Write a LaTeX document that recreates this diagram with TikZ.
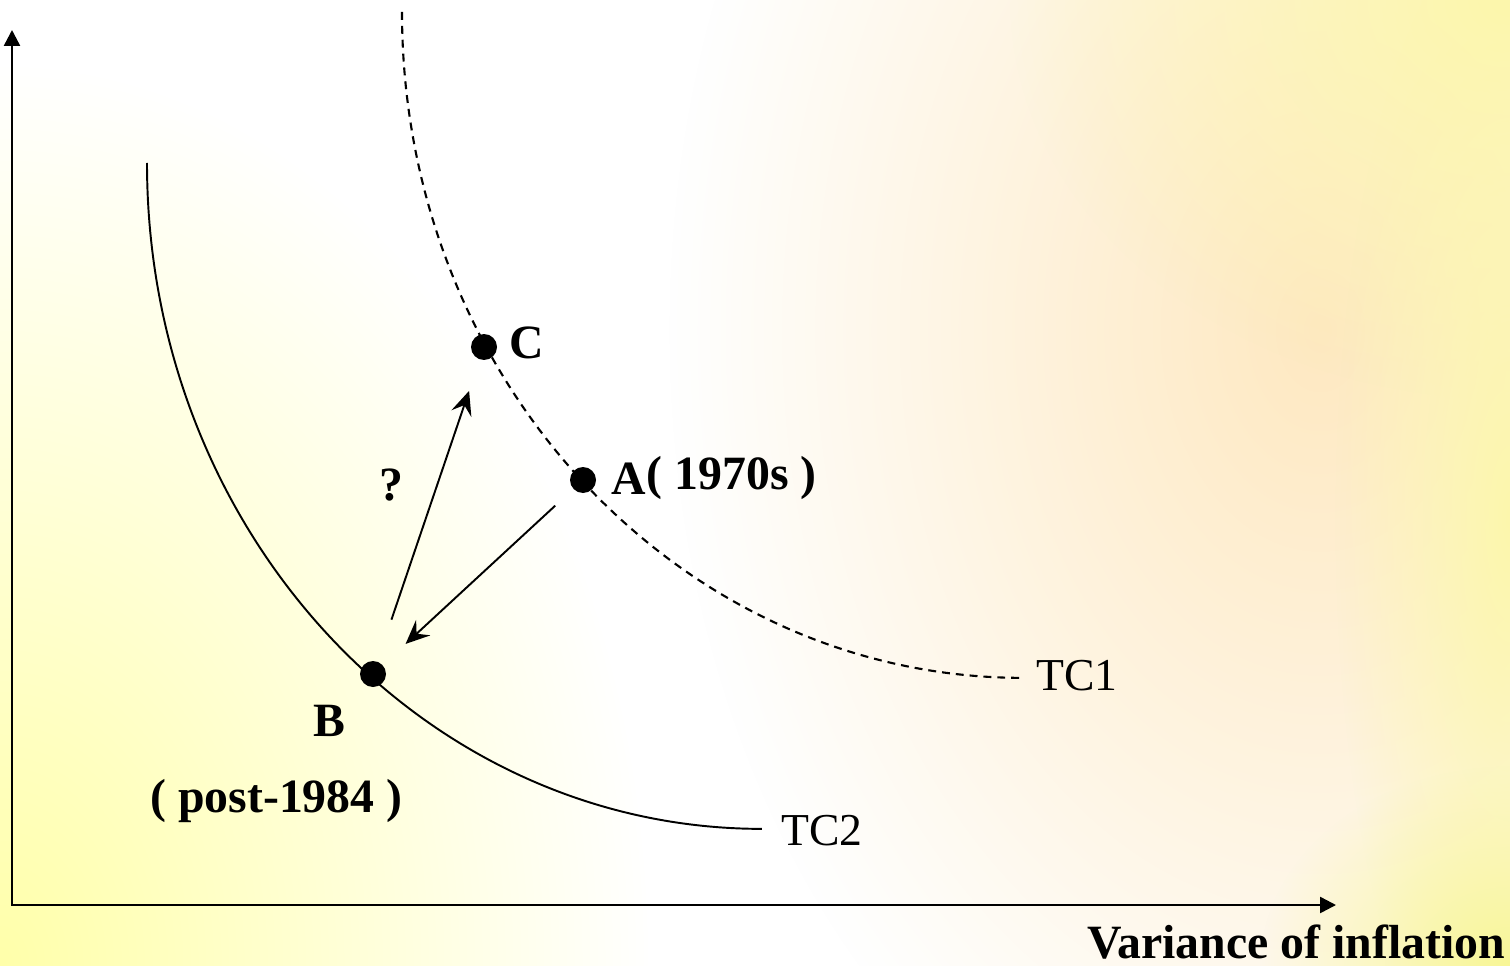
\documentclass[tikz,border=0pt]{standalone}
\usepackage{fontspec}
\setmainfont{Liberation Serif}
\usetikzlibrary{arrows.meta,fadings}
\definecolor{glowyel}{RGB}{255,255,170}
\definecolor{glowpch}{RGB}{254,230,186}
\definecolor{glowyel2}{RGB}{252,247,172}
\definecolor{glowyel3}{RGB}{248,246,150}
\tikzfading[name=myglow, inner color=transparent!0, outer color=transparent!100]
\tikzfading[name=softglow, inner color=transparent!0, outer color=transparent!100]
\tikzset{
  dot/.style={circle, fill=black, inner sep=0pt, minimum size=0.52cm},
  lbl/.style={anchor=base west, inner sep=0pt, font=\fontsize{27.2}{31}\selectfont\bfseries},
  tclbl/.style={anchor=base west, inner sep=0pt, font=\fontsize{26}{30}\selectfont},
  axis/.style={line width=1.4pt, {Triangle[length=0.32cm,width=0.32cm]}-{Triangle[length=0.32cm,width=0.32cm]}},
  tcsolid/.style={line width=1.1pt},
  tcdash/.style={line width=1.2pt, dash pattern=on 4.5pt off 3.4pt},
  move/.style={line width=1.1pt, -{Stealth[length=0.48cm,width=0.42cm,inset=0.18cm]}},
  glow/.style={fill=#1, path fading=myglow}
}
\begin{document}
\begin{tikzpicture}[x=0.02cm, y=-0.02cm]
\useasboundingbox (0,0) rectangle (1510,966);
% background
\fill[white] (0,0) rectangle (1510,966);
\begin{scope}
\clip (0,0) rectangle (1510,966);
\fill[glow=glowyel] (0,966) ellipse [x radius=13cm, y radius=18cm];
\fill[glow=glowpch, fill opacity=0.9] (1320,330) ellipse [x radius=13cm, y radius=18cm];
\fill[glow=glowyel2] (1510,0) ellipse [x radius=10cm, y radius=8cm];
\fill[glow=glowyel2] (1510,520) ellipse [x radius=3.5cm, y radius=12cm];
\fill[glow=glowyel3] (1510,966) ellipse [x radius=5cm, y radius=4cm];
\end{scope}

% axes
\coordinate (O) at (12,905);
\coordinate (Ytop) at (12,30);
\coordinate (Xend) at (1336,905);
\draw[axis] (Ytop) -- (O) -- (Xend);

% curves (elliptical arcs)
\draw[tcsolid] (147,163) arc[start angle=180, end angle=270, x radius=12.3cm, y radius=13.32cm];
\draw[tcdash] (402,12) arc[start angle=180, end angle=270, x radius=12.42cm, y radius=13.32cm];

% points
\node[dot] (C) at (484,347) {};
\node[dot] (A) at (583,480) {};
\node[dot] (B) at (373,674) {};

% labels
\node[lbl] (lC) at (509,358) {C};
\node[lbl] (lA) at (611,494) {A};
\node[lbl, yshift=0.1cm] (l1970) at (lA.base east) {( 1970s )};
\node[lbl] (lq) at (379,500) {?};
\node[lbl] (lB) at (313,736) {B};
\node[lbl] (lpost) at (150,812) {( post-1984 )};
\node[tclbl] (tc2) at (781,845) {TC2};
\node[tclbl] (tc1) at (1036,690) {TC1};
\node[lbl] (xl) at (1087,958) {Variance of inflation};

% movement arrows
\draw[move, shorten <=0.49cm, shorten >=0.62cm] (A) -- (B);
\draw[move, shorten <=0.88cm, shorten >=0.66cm] (B) -- (C);
\end{tikzpicture}
\end{document}
